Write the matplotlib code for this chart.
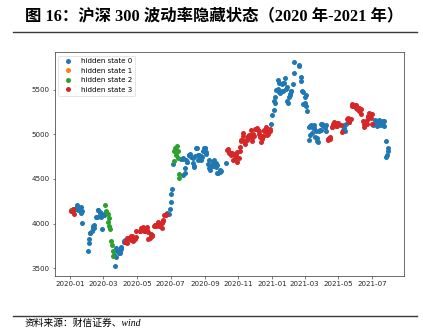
import matplotlib
matplotlib.use('Agg')
import numpy as np
import pandas as pd
from matplotlib import pyplot as plt
from matplotlib import dates as mdates
from matplotlib.lines import Line2D


# CSI 300 daily close, one row per month
close_2020 = [
    4152, 4145, 4129, 4160, 4112, 4164, 4163, 4204, 4190, 4167, 4149, 4154, 4185, 4114, 4146, 4004,
    3688, 3785, 3828, 3899, 3900, 3912, 3952, 3978, 3952, 3988, 4078, 4076, 4074, 4149, 4149, 4130, 4123, 4074, 4093, 3940,
    4091, 4092, 4115, 4207, 4139, 4021, 4103, 4062, 3979, 3935, 3808, 3761, 3695, 3637, 3653, 3531, 3625, 3723, 3698, 3710, 3673, 3686,
    3675, 3734, 3713, 3807, 3792, 3812, 3796, 3784, 3842, 3830, 3839, 3839, 3863, 3814, 3858, 3842, 3803, 3823, 3838, 3852, 3912,
    3918, 3913, 3949, 3952, 3946, 3962, 3917, 3914, 3924, 3963, 3925, 3908, 3825, 3837, 3883, 3863, 3868, 3867,
    3971, 3983, 3986, 3978, 3990, 4000, 4016, 4010, 3975, 3990, 3954, 4012, 4032, 4042, 4098, 4092, 4107, 4121, 4108, 4164,
    4247, 4335, 4391, 4670, 4698, 4810, 4842, 4765, 4869, 4809, 4737, 4506, 4554, 4723, 4727, 4725, 4730, 4549, 4563, 4628, 4708, 4687, 4695,
    4763, 4772, 4766, 4783, 4741, 4736, 4684, 4633, 4648, 4753, 4848, 4849, 4767, 4711, 4764, 4749, 4752, 4714, 4744, 4816, 4842,
    4843, 4843, 4797, 4785, 4669, 4713, 4625, 4603, 4640, 4647, 4689, 4676, 4640, 4707, 4681, 4632, 4656, 4571, 4570, 4583, 4597, 4587,
    4681, 4820, 4833, 4798, 4792, 4792, 4771, 4793, 4779, 4776, 4717, 4735, 4751, 4781, 4798, 4695,
    4737, 4813, 4858, 4935, 4927, 5020, 4983, 4926, 4928, 4897, 4944, 4939, 4956, 4981, 4991, 5045, 4989, 4925, 4954, 5004, 4980,
    5059, 5058, 5064, 5066, 5043, 5033, 4999, 4975, 4910, 4952, 4981, 4981, 5050, 5037, 5077, 4995, 5031, 5008, 5042, 5064, 5042, 5113, 5211,
]
close_2021 = [
    5267, 5368, 5352, 5418, 5496, 5505, 5612, 5577, 5470, 5458, 5565, 5487, 5488, 5570, 5569, 5625, 5512, 5528, 5378, 5351,
    5418, 5447, 5436, 5484, 5484, 5564, 5683, 5808, 5768, 5779, 5597, 5637, 5480, 5470, 5336,
    5418, 5356, 5444, 5320, 5262, 5080, 4935, 4992, 5098, 5103, 5015, 5072, 5068, 5099, 4975, 5032, 4964, 4920, 4913, 5038, 5050, 5111, 5048,
    5103, 5112, 5082, 5079, 5105, 5035, 4948, 4931, 4960, 4946, 4966, 5083, 5084, 5106, 5110, 5135, 5099, 5090, 5097, 5127, 5123,
    5103, 5027, 5046, 5070, 5100, 5035, 5110, 5170, 5187, 5157, 5140, 5139, 5171, 5315, 5335, 5321, 5321, 5331,
    5333, 5300, 5290, 5282, 5295, 5260, 5277, 5280, 5225, 5150, 5110, 5085, 5100, 5120, 5160, 5190, 5210, 5240, 5226, 5180, 5224,
    5120, 5100, 5125, 5112, 5158, 5110, 5094, 5150, 5160, 5119, 5148, 5099, 5120, 5109, 5150, 5146, 5097, 4930, 4748, 4770, 4842, 4811,
]

# exchange holidays falling on weekdays
holidays = [
    '2020-01-01', '2020-01-24', '2020-01-27', '2020-01-28', '2020-01-29', '2020-01-30', '2020-01-31',
    '2020-04-06', '2020-05-01', '2020-05-04', '2020-05-05', '2020-06-25', '2020-06-26',
    '2020-10-01', '2020-10-02', '2020-10-05', '2020-10-06', '2020-10-07', '2020-10-08',
    '2021-01-01', '2021-02-11', '2021-02-12', '2021-02-15', '2021-02-16', '2021-02-17',
    '2021-04-05', '2021-05-03', '2021-05-04', '2021-05-05', '2021-06-14',
]

# HMM hidden state per trading day as (state, run length)
state_runs = [
    (2, 1), (3, 4), (0, 34), (2, 11), (0, 14), (3, 50), (0, 7), (2, 9),
    (0, 54), (3, 57), (0, 66), (3, 17), (0, 5), (3, 33), (0, 21),
]

state_labels = ['hidden state 0', 'hidden state 1', 'hidden state 2', 'hidden state 3']
state_colors = ['#1f77b4', '#ff7f0e', '#2ca02c', '#d62728']


def main():
    days = pd.bdate_range('2020-01-02', '2021-07-30')
    days = days[~days.isin(pd.to_datetime(holidays))]
    close = np.array(close_2020 + close_2021, dtype=float)
    state = np.repeat([s for s, n in state_runs], [n for s, n in state_runs])
    if not (len(days) == len(close) == len(state)):
        raise ValueError('length mismatch %d %d %d' % (len(days), len(close), len(state)))

    fig = plt.figure(figsize=(4.23, 3.34), dpi=100)
    ax = fig.add_axes([0.1293, 0.1746, 0.8258, 0.6698])

    for k in range(4):
        m = state == k
        ax.plot(days[m], close[m], 'o', ms=3.6, mew=0, color=state_colors[k],
                label=state_labels[k])

    ax.xaxis.set_major_locator(mdates.MonthLocator(bymonth=[1, 3, 5, 7, 9, 11]))
    ax.xaxis.set_major_formatter(mdates.DateFormatter('%Y-%m'))
    ax.set_yticks([3500, 4000, 4500, 5000, 5500])
    ax.tick_params(labelsize=5.1, length=1.8, width=0.45, pad=1.8,
                   color='#333333', labelcolor='#262626')
    for sp in ax.spines.values():
        sp.set_linewidth(0.55)
        sp.set_color('#444444')

    leg = ax.legend(loc='upper left', fontsize=5.1, numpoints=1, handlelength=2.0,
                    borderaxespad=0.5, framealpha=0.8)
    leg.get_frame().set_linewidth(0.45)

    fig.text(0.059, 0.951, '图 16：沪深 300 波动率隐藏状态（2020 年-2021 年）',
             family=['Liberation Serif', 'Noto Sans CJK SC'], weight='bold',
             size=11.8, va='center', ha='left')
    fig.add_artist(Line2D([0.031, 0.986], [0.905, 0.905], color='#3a3a3a', lw=1.0,
                          transform=fig.transFigure))
    fig.add_artist(Line2D([0.031, 0.986], [0.0548, 0.0548], color='#3a3a3a', lw=1.0,
                          transform=fig.transFigure))
    fig.text(0.059, 0.033, '资料来源：财信证券、wind',
             family=['Liberation Serif', 'Noto Sans CJK SC'], style='italic',
             size=7.0, va='center', ha='left')

    fig.savefig('out.png', dpi=100)


if __name__ == '__main__':
    main()
